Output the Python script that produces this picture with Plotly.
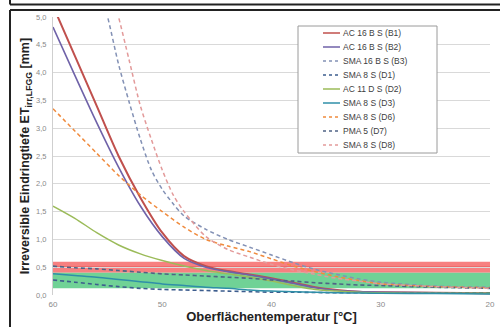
import plotly.graph_objects as go

# ---------------- data ----------------
T_main = [60, 58, 56, 54, 52, 50, 48, 46, 44, 42, 40, 38, 36, 34, 32, 30, 25, 20]

b1_ac16 = [5.2, 4.3, 3.4, 2.5, 1.75, 1.12, 0.7, 0.52, 0.43, 0.37, 0.3, 0.22, 0.14, 0.09, 0.06, 0.05, 0.04, 0.03]
b2_ac16 = [4.82, 3.95, 3.1, 2.3, 1.6, 1.05, 0.66, 0.5, 0.42, 0.36, 0.29, 0.21, 0.13, 0.08, 0.06, 0.05, 0.04, 0.03]
d2_ac11 = [1.6, 1.38, 1.12, 0.9, 0.74, 0.62, 0.52, 0.44, 0.38, 0.32, 0.25, 0.17, 0.1, 0.07, 0.05, 0.04, 0.03, 0.03]
d3_sma8 = [0.38, 0.35, 0.32, 0.28, 0.24, 0.2, 0.17, 0.14, 0.12, 0.09, 0.07, 0.06, 0.05, 0.04, 0.035, 0.03, 0.025, 0.02]
d6_sma8 = [3.35, 2.95, 2.55, 2.15, 1.8, 1.5, 1.22, 1.0, 0.88, 0.78, 0.65, 0.52, 0.42, 0.33, 0.26, 0.2, 0.15, 0.13]
d7_pma5 = [0.52, 0.49, 0.47, 0.44, 0.41, 0.38, 0.36, 0.34, 0.32, 0.3, 0.27, 0.25, 0.22, 0.2, 0.18, 0.17, 0.14, 0.12]
d1_sma8 = [0.27, 0.23, 0.19, 0.15, 0.12, 0.1, 0.09, 0.08, 0.07, 0.06, 0.05, 0.05, 0.045, 0.04, 0.04, 0.04, 0.04, 0.04]

T_b3 = [56, 55, 54, 53, 52, 51, 50, 49, 48, 46, 44, 42, 40, 38, 36, 34, 32, 30, 25, 20]
b3_sma16 = [5.7, 5.0, 4.15, 3.45, 2.8, 2.25, 1.9, 1.64, 1.42, 1.18, 1.0, 0.86, 0.72, 0.58, 0.46, 0.37, 0.29, 0.23, 0.16, 0.14]

T_d8 = [55, 54, 53, 52, 51, 50, 49, 48, 46, 44, 42, 40, 38, 36, 34, 32, 30, 25, 20]
d8_sma8 = [5.7, 5.0, 4.2, 3.4, 2.8, 2.25, 1.8, 1.5, 1.05, 0.82, 0.68, 0.55, 0.45, 0.37, 0.3, 0.25, 0.2, 0.15, 0.12]

red_band = [0.4, 0.6]
green_band = [0.12, 0.4]
limit_line = 0.5

legend_labels = ["AC 16 B S (B1)", "AC 16 B S (B2)", "SMA 16 B S (B3)", "SMA 8 S (D1)",
                 "AC 11 D S (D2)", "SMA 8 S (D3)", "SMA 8 S (D6)", "PMA 5 (D7)", "SMA 8 S (D8)"]

x_ticks = [60, 50, 40, 30, 20]
y_ticks = [0.0, 0.5, 1.0, 1.5, 2.0, 2.5, 3.0, 3.5, 4.0, 4.5, 5.0]

# ---------------- styles ----------------
W, H = 500, 327
ML, MR, MT, MB = 53, 10, 17, 32
PW, PH = W - ML - MR, H - MT - MB

def px(x):
    return (x - ML) / PW

def py(y):
    return (H - MB - y) / PH

series = [
    (T_main, b1_ac16, "#c0504d", "solid", 2.0),
    (T_main, b2_ac16, "#6f62a8", "solid", 1.6),
    (T_b3, b3_sma16, "#8391b5", "dash", 1.5),
    (T_main, d1_sma8, "#3d5d8e", "dash", 1.6),
    (T_main, d2_ac11, "#9bbb59", "solid", 1.5),
    (T_main, d3_sma8, "#2f8fa8", "solid", 1.5),
    (T_main, d6_sma8, "#f08a3c", "dash", 1.5),
    (T_main, d7_pma5, "#4f6385", "dash", 1.6),
    (T_d8, d8_sma8, "#e39a9a", "dash", 1.5),
]

fig = go.Figure()

for (xs, ys, col, dash, w), name in zip(series, legend_labels):
    fig.add_trace(go.Scatter(
        x=xs, y=ys, mode="lines", name=name, showlegend=False,
        line=dict(color=col, width=w, dash=dash if dash == "solid" else "4px,3px", shape="spline", smoothing=0.8),
    ))

# bands
fig.add_shape(type="rect", xref="x", yref="y", x0=60, x1=20, y0=red_band[0], y1=red_band[1],
              fillcolor="rgb(247,128,128)", line_width=0, layer="below")
fig.add_shape(type="rect", xref="x", yref="y", x0=60, x1=20, y0=green_band[0], y1=green_band[1],
              fillcolor="rgb(112,210,150)", line_width=0, layer="below")
fig.add_shape(type="line", xref="x", yref="y", x0=60, x1=20, y0=limit_line, y1=limit_line,
              line=dict(color="#d83a3a", width=1), layer="below")

# manual legend
lx0, lx1, ly0, ly1 = 298, 437, 26, 153
fig.add_shape(type="rect", xref="paper", yref="paper", x0=px(lx0), x1=px(lx1), y0=py(ly1), y1=py(ly0),
              line=dict(color="#9a9a9a", width=1), fillcolor="white")
for i, ((xs, ys, col, dash, w), name) in enumerate(zip(series, legend_labels)):
    yy = 33 + i * 14
    fig.add_shape(type="line", xref="paper", yref="paper", x0=px(323), x1=px(340), y0=py(yy), y1=py(yy),
                  line=dict(color=col, width=1.5, dash="solid" if dash == "solid" else "3px,3px"))
    fig.add_annotation(x=px(341), y=py(yy), xref="paper", yref="paper", text=name, showarrow=False,
                       xanchor="left", yanchor="middle",
                       font=dict(family="Liberation Sans, Arial", size=8.5, color="#404040"))

# document frame lines
frame = dict(color="#222222", width=2)
fig.add_shape(type="line", xref="paper", yref="paper", x0=px(10), x1=px(500), y0=py(4.5), y1=py(4.5), line=frame)
fig.add_shape(type="line", xref="paper", yref="paper", x0=px(10), x1=px(10), y0=py(0), y1=py(4.5), line=frame)
fig.add_shape(type="line", xref="paper", yref="paper", x0=px(10), x1=px(500), y0=py(10), y1=py(10), line=frame)
fig.add_shape(type="line", xref="paper", yref="paper", x0=px(10), x1=px(10), y0=py(10), y1=py(327), line=frame)

fig.update_layout(
    width=W, height=H,
    margin=dict(l=ML, r=MR, t=MT, b=MB, autoexpand=False),
    paper_bgcolor="white", plot_bgcolor="white",
    separators=",.",
    showlegend=False,
    font=dict(family="Liberation Sans, Arial", color="#333333"),
)

fig.update_xaxes(
    range=[60, 20], tickvals=x_ticks, ticktext=[str(v) for v in x_ticks],
    showgrid=False, zeroline=False, showline=False, ticks="",
    ticklabelstandoff=3, automargin=False,
    tickfont=dict(size=8, color="#8a8a8a"),
    title=dict(text="<b>Oberflächentemperatur [°C]</b>", font=dict(size=13, color="#222222"), standoff=3),
)
fig.update_yaxes(
    range=[0, 5], tickvals=y_ticks, tickformat=".1f",
    showgrid=True, gridcolor="#d9d9d9", gridwidth=1, zeroline=False,
    showline=True, linecolor="#cfcfcf", linewidth=1, ticks="",
    ticklabelstandoff=4, automargin=False,
    tickfont=dict(size=7.5, color="#8a8a8a"),
    title=dict(text="<b>Irreversible Eindringtiefe ET<sub>irr,LFGG</sub> [mm]</b>",
               font=dict(size=12.5, color="#222222"), standoff=3),
)

fig.write_html("out.html", config={"displayModeBar": False},
               post_script="document.body.style.margin='0';document.body.style.overflow='hidden';")
